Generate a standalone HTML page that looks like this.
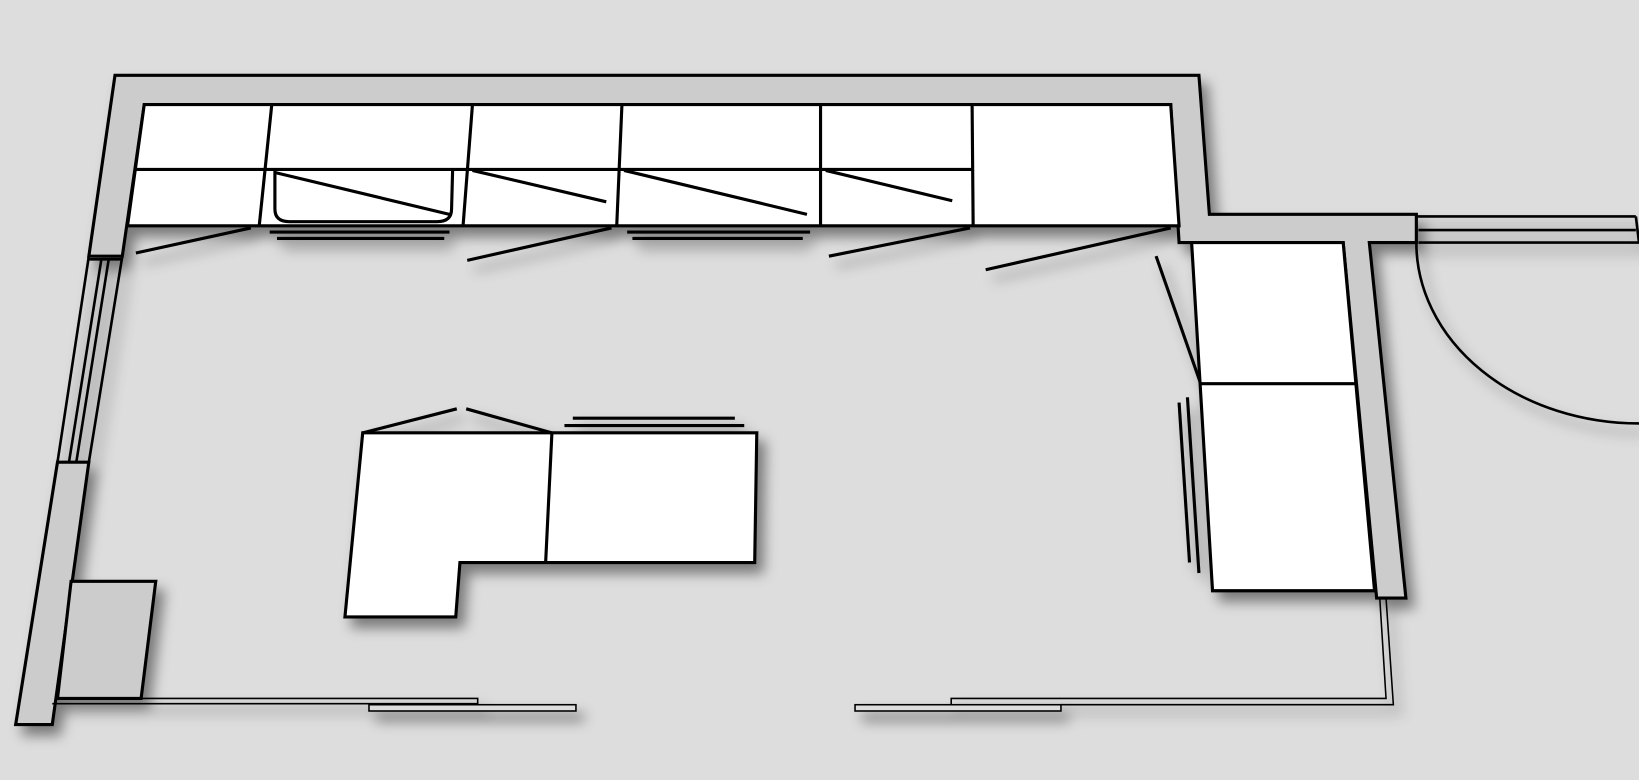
<!DOCTYPE html>
<html><head><style>html,body{margin:0;padding:0;background:#dddddd;}svg{display:block}</style></head>
<body>
<svg width="1639" height="780" viewBox="0 0 1568 746" preserveAspectRatio="none" xmlns="http://www.w3.org/2000/svg">
<defs>
<filter id="s" x="-20%" y="-20%" width="150%" height="150%"><feDropShadow dx="7" dy="9" stdDeviation="6" flood-color="#000" flood-opacity="0.45"/></filter>
</defs>
<rect width="1568" height="746" fill="#dddddd"/>
<g stroke="#000" stroke-width="3" stroke-linejoin="miter" fill="none" filter="url(#s)">
  <polygon fill="#cccccc" points="110,72 1147,72 1157,205 1355,205 1355,232 1310,232 1345,572 1317,572 1285,232 1128,232 1120,100 138,100 117,245 85,245"/>
  <polygon fill="#cccccc" points="55,442 85,442 50,693 15,693"/>
  <polygon fill="#cccccc" points="68,556 149,556 135,668 55,668"/>
  <g stroke-width="2.5"><line x1="85" y1="245" x2="55" y2="442"/><line x1="117" y1="245" x2="85" y2="442"/><line x1="97" y1="248" x2="66" y2="442"/><line x1="104" y1="248" x2="73" y2="442"/><line x1="85" y1="248" x2="117" y2="248"/></g>
  <polygon fill="#fff" points="138,100 1120,100 1128,216 122,216"/>
  <line x1="130" y1="162" x2="930" y2="162"/>
  <line x1="260" y1="100" x2="248" y2="216"/>
  <line x1="452" y1="100" x2="443" y2="216"/>
  <line x1="595" y1="100" x2="590" y2="216"/>
  <line x1="785" y1="100" x2="785" y2="216"/>
  <line x1="930" y1="100" x2="931" y2="216"/>
  <path d="M263,163 L263,200 Q263,212 277,212 L418,212 Q432,212 432,200 L433,163" />
  <line x1="263" y1="165" x2="430" y2="205"/>
  <line x1="452" y1="163" x2="580" y2="193"/>
  <line x1="597" y1="163" x2="772" y2="205"/>
  <line x1="790" y1="163" x2="911" y2="192"/>
  <line x1="258" y1="222" x2="430" y2="222"/><line x1="265" y1="228" x2="425" y2="228"/>
  <line x1="600" y1="222" x2="775" y2="222"/><line x1="605" y1="228" x2="768" y2="228"/>
  <line x1="130" y1="242" x2="240" y2="218"/>
  <line x1="447" y1="249" x2="585" y2="218"/>
  <line x1="793" y1="245" x2="928" y2="218"/>
  <line x1="943" y1="258" x2="1120" y2="218"/>
  <line x1="1106" y1="245" x2="1148" y2="365"/>
  <polygon fill="#fff" points="1140,232 1285,232 1315,565 1160,565"/>
  <line x1="1148" y1="367" x2="1297" y2="367"/>
  <line x1="1128" y1="385" x2="1138" y2="538"/><line x1="1136" y1="380" x2="1147" y2="548"/>
  <polygon fill="#fff" points="347,414 724,414 722,538 440,538 436,590 330,590"/>
  <line x1="528" y1="414" x2="522" y2="538"/>
  <line x1="347" y1="414" x2="437" y2="391"/><line x1="446" y1="391" x2="528" y2="414"/>
  <line x1="548" y1="400" x2="703" y2="400"/><line x1="540" y1="407" x2="712" y2="407"/>
  <g stroke-width="2.5"><line x1="1355" y1="207" x2="1565" y2="207"/><line x1="1357" y1="220" x2="1565" y2="220"/><line x1="1357" y1="232" x2="1568" y2="232"/><line x1="1565" y1="207" x2="1568" y2="232"/></g>
  <path d="M1355,232 A213,173 0 0 0 1568,405" stroke-width="2.5"/>
  <g stroke-width="1.5">
    <polyline fill="none" points="135,668 457,668 457,673 50,673"/>
    <rect fill="#ddd" x="353" y="674" width="198" height="6"/>
    <rect fill="#ddd" x="818" y="674" width="197" height="6"/>
    <polyline fill="none" points="910,674 910,668 1326,668 1320,572"/>
    <polyline fill="none" points="1015,674 1333,674 1326,572"/>
  </g>
</g>
</svg>
</body></html>
